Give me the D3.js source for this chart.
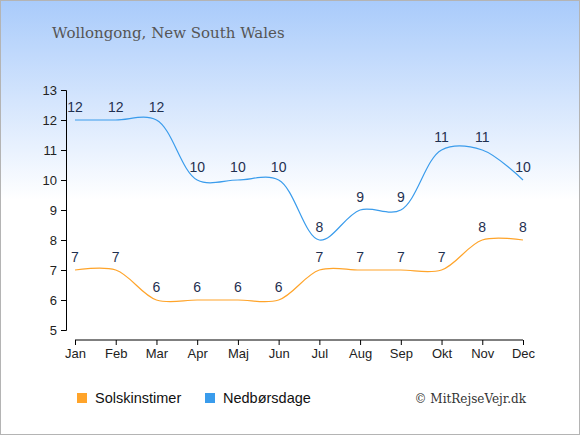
<!DOCTYPE html>
<html>
<head>
<meta charset="utf-8">
<script src="https://cdn.jsdelivr.net/npm/d3@7"></script>
<style>
  body { margin: 0; }
  svg { display: block; font-family: "Liberation Sans", Arial, sans-serif; }
</style>
</head>
<body>
<svg id="chart"></svg>
<script>
const months = ["Jan", "Feb", "Mar", "Apr", "Maj", "Jun", "Jul", "Aug", "Sep", "Okt", "Nov", "Dec"];
const sunHours = [7, 7, 6, 6, 6, 6, 7, 7, 7, 7, 8, 8];
const rainDays = [12, 12, 12, 10, 10, 10, 8, 9, 9, 11, 11, 10];
const yTicks = [5, 6, 7, 8, 9, 10, 11, 12, 13];

const width = 580;
const height = 435;

const svg = d3.select("#chart").attr("width", width).attr("height", height);

// baggrund
const defs = svg.append("defs");
const grad = defs.append("linearGradient")
    .attr("id", "bg")
    .attr("x1", 0).attr("y1", 0).attr("x2", 0).attr("y2", 1);
grad.append("stop").attr("offset", "0%").attr("stop-color", "#a9cbfb");
grad.append("stop").attr("offset", "46%").attr("stop-color", "#ffffff");
grad.append("stop").attr("offset", "100%").attr("stop-color", "#ffffff");

svg.append("rect")
    .attr("x", 0.5).attr("y", 0.5)
    .attr("width", width - 1).attr("height", height - 1)
    .attr("fill", "url(#bg)")
    .attr("stroke", "#b4b4b4");

svg.append("text")
    .attr("x", 52).attr("y", 38)
    .style("font-family", "'DejaVu Serif', Georgia, serif")
    .style("font-size", "15px")
    .attr("fill", "#555")
    .text("Wollongong, New South Wales");

const x = d3.scalePoint().domain(months).range([75, 523]);
const y = d3.scaleLinear().domain([5, 13]).range([330, 90]);

// akser
const yAxis = svg.append("g")
    .attr("transform", "translate(66,0)")
    .call(d3.axisLeft(y).tickValues(yTicks).tickSize(5).tickPadding(4));
yAxis.select(".domain").attr("stroke", "#000");
yAxis.selectAll("text").style("font-size", "13px").attr("fill", "#222");

const xAxis = svg.append("g")
    .attr("transform", "translate(0,340)")
    .call(d3.axisBottom(x).tickSize(5).tickPadding(4).tickSizeOuter(0));
xAxis.select(".domain").attr("d", `M${x("Jan")},0H${x("Dec")}`).attr("stroke", "#000");
xAxis.selectAll("text").style("font-size", "13px").attr("fill", "#222");

// linjer
const line = d3.line()
    .x((d, i) => x(months[i]))
    .y(d => y(d))
    .curve(d3.curveCatmullRom.alpha(0.5));

const series = [
    { name: "Solskinstimer", values: sunHours, color: "#ffa42a" },
    { name: "Nedbørsdage", values: rainDays, color: "#3a9cec" }
];

series.forEach(s => {
    svg.append("path")
        .attr("d", line(s.values))
        .attr("fill", "none")
        .attr("stroke", s.color)
        .attr("stroke-width", 1.2);

    svg.selectAll(null)
        .data(s.values)
        .enter()
        .append("text")
        .attr("x", (d, i) => x(months[i]))
        .attr("y", d => y(d) - 8)
        .attr("text-anchor", "middle")
        .style("font-size", "14px")
        .attr("fill", "#1f3050")
        .text(d => d);
});

// forklaring
const legendX = [77, 205];
series.forEach((s, i) => {
    svg.append("rect")
        .attr("x", legendX[i]).attr("y", 393)
        .attr("width", 10).attr("height", 10)
        .attr("fill", s.color);
    svg.append("text")
        .attr("x", legendX[i] + 18).attr("y", 403)
        .style("font-size", "14.5px")
        .attr("fill", "#111")
        .text(s.name);
});

svg.append("text")
    .attr("x", 526).attr("y", 403)
    .attr("text-anchor", "end")
    .style("font-family", "'DejaVu Serif', Georgia, serif")
    .style("font-size", "12px")
    .attr("fill", "#333")
    .text("© MitRejseVejr.dk");
</script>
</body>
</html>
